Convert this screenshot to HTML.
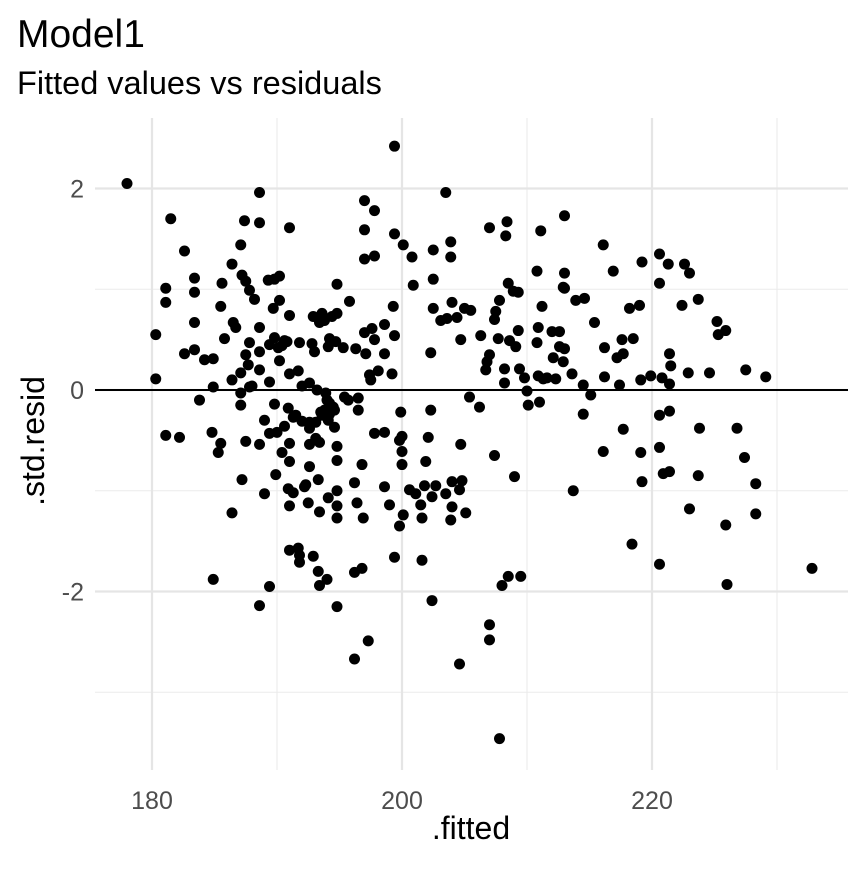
<!DOCTYPE html>
<html><head><meta charset="utf-8"><style>
body{margin:0;background:#fff;}
svg text{font-family:"Liberation Sans",Arial,sans-serif;}
</style></head><body>
<svg id="chart" width="864" height="864" xmlns="http://www.w3.org/2000/svg">
<rect width="864" height="864" fill="#fff"/>
<text x="17" y="47" font-size="39" fill="#000">Model1</text>
<text x="17" y="94" font-size="32.5" fill="#000">Fitted values vs residuals</text>
<g id="grid"></g><g id="pts"></g><g id="ticks"></g>
<text x="471" y="839" font-size="32" text-anchor="middle">.fitted</text>
<text transform="translate(44,441) rotate(-90)" font-size="32" text-anchor="middle">.std.resid</text>
</svg>
<script>
const xVals=[178.0,180.3,180.3,181.1,181.1,181.1,181.5,182.2,182.6,182.6,183.4,183.4,183.4,183.4,183.8,184.2,184.8,184.9,184.9,184.9,185.3,185.5,185.5,185.6,185.8,186.4,186.4,186.5,186.4,186.7,187.1,187.2,187.1,187.1,187.1,187.2,187.4,187.5,187.5,187.5,187.7,187.8,187.8,187.8,188.0,188.2,188.6,188.6,188.6,188.6,188.6,188.6,188.6,189.0,189.0,189.3,189.4,189.4,189.4,189.4,189.7,189.8,189.8,189.8,189.9,190.0,190.1,190.2,190.2,190.2,190.4,190.4,190.6,190.6,190.8,190.9,190.9,191.0,191.0,191.0,191.0,191.0,191.0,191.0,191.3,191.3,191.5,191.7,191.7,191.8,191.8,191.8,192.0,192.0,192.2,192.3,192.5,192.6,192.6,192.6,192.6,192.6,192.8,192.9,192.9,193.0,193.1,193.1,193.2,193.3,193.3,193.4,193.4,193.4,193.4,193.5,193.6,193.6,193.8,193.8,193.9,194.0,194.0,194.1,194.1,194.1,194.2,194.2,194.2,194.4,194.5,194.6,194.6,194.7,194.8,194.8,194.8,194.8,194.8,194.8,194.8,194.8,195.3,195.4,195.7,195.8,196.2,196.2,196.2,196.3,196.4,196.5,196.5,196.8,196.8,196.9,197.0,197.0,197.0,197.0,197.1,197.3,197.4,197.5,197.6,197.8,197.8,197.8,197.8,198.1,198.6,198.6,198.6,198.6,199.0,199.2,199.3,199.4,199.4,199.4,199.4,199.8,199.8,199.9,200.0,200.1,200.0,200.0,200.1,200.6,200.8,200.9,201.1,201.5,201.6,201.6,201.8,201.9,202.1,202.3,202.3,202.4,202.5,202.4,202.5,202.5,202.7,203.1,203.5,203.5,203.6,203.9,203.9,204.0,204.0,203.9,204.0,204.4,204.6,204.6,204.7,204.7,204.8,205.0,205.1,205.4,205.5,206.2,206.3,206.8,207.0,207.0,207.0,206.7,207.0,207.4,207.4,207.5,207.7,207.8,207.8,208.0,208.2,208.2,208.3,208.4,208.5,208.5,208.6,208.9,209.0,209.1,209.3,209.3,209.4,209.5,209.8,210.0,210.1,210.8,210.8,210.9,210.9,211.0,211.1,211.2,211.3,211.6,212.0,212.1,212.3,212.6,212.6,212.9,212.9,213.0,213.0,213.0,213.0,213.6,213.7,213.9,214.5,214.5,214.6,215.1,215.4,216.1,216.1,216.2,216.2,216.9,217.2,217.4,217.6,217.7,217.7,218.2,218.4,218.5,219.0,219.1,219.1,219.2,219.2,219.9,220.6,220.6,220.6,220.6,220.6,220.8,220.9,221.3,221.4,221.4,221.4,221.4,221.5,222.4,222.6,222.9,223.0,223.0,223.7,223.7,223.8,224.6,225.2,225.3,225.9,225.9,226.0,226.8,227.4,227.5,228.3,228.3,229.1,232.8];
const yVals=[2.05,0.55,0.11,1.01,0.87,-0.45,1.70,-0.47,1.38,0.36,1.11,0.97,0.67,0.40,-0.10,0.30,-0.42,0.31,0.03,-1.88,-0.62,-0.53,0.83,1.06,0.51,1.25,0.10,0.67,-1.22,0.62,1.44,1.14,0.17,-0.03,-0.15,-0.89,1.68,1.08,0.35,-0.51,0.25,0.47,0.03,0.99,0.04,0.90,1.66,1.96,0.62,0.38,0.20,-0.54,-2.14,-0.30,-1.03,1.09,0.45,0.08,-0.43,-1.95,0.81,1.10,0.52,-0.14,-0.84,-0.42,0.42,1.13,0.89,0.29,0.44,-0.62,-0.36,0.49,0.48,-0.18,-0.98,1.61,-0.53,-1.15,0.74,0.16,-0.71,-1.59,-0.27,-1.02,-0.25,0.19,-1.57,0.47,-1.64,-1.71,0.04,-0.31,-0.96,-0.94,-1.12,-0.54,0.07,-0.32,-0.38,-0.76,0.46,-1.65,0.73,0.38,-0.32,-0.48,0.00,-1.80,-0.89,-1.21,0.67,-0.52,-1.94,-0.22,0.76,-0.25,-0.20,0.69,-0.03,-0.10,-1.88,0.43,-0.30,-1.07,0.51,-0.13,-0.24,0.73,-0.17,-0.37,-0.20,0.48,1.05,0.76,-0.56,-0.70,-1.00,-1.15,-1.27,-2.15,0.42,-0.07,-0.10,0.88,-0.92,-1.81,-2.67,0.41,-1.12,-0.20,-0.08,-1.77,-0.74,-1.27,1.88,1.59,0.57,1.30,0.36,-2.49,0.15,0.10,0.61,0.50,1.78,-0.43,1.33,0.19,0.36,0.65,-0.42,-0.96,-1.14,0.16,0.83,1.55,0.54,2.42,-1.66,-0.50,-1.35,-0.22,-0.46,1.44,-0.61,-0.74,-1.24,-0.99,1.32,1.04,-1.03,-1.14,-1.27,-1.69,-0.95,-0.71,-0.47,0.37,-0.20,-1.06,1.10,-2.09,1.39,0.81,-0.95,0.69,1.96,-1.03,0.71,1.32,1.47,-0.91,0.87,-1.29,-1.16,0.72,-0.99,-2.72,-0.54,0.50,-0.90,0.81,-1.22,-0.07,0.79,-0.17,0.54,0.28,-2.33,-2.48,1.61,0.20,0.35,0.70,-0.65,0.78,0.51,0.89,-3.46,-1.94,0.21,0.07,1.53,1.67,1.06,-1.85,0.49,0.98,-0.86,0.43,0.97,0.59,0.21,-1.85,0.12,-0.01,-0.15,0.47,1.18,0.14,0.62,-0.12,1.58,0.83,0.11,0.12,0.58,0.32,0.11,0.58,0.43,0.28,1.02,1.73,1.16,0.41,1.01,0.16,-1.00,0.89,-0.24,0.05,0.91,-0.05,0.67,-0.61,1.44,0.13,0.42,1.18,0.32,0.05,0.50,-0.39,0.36,0.81,-1.53,0.51,0.84,0.10,-0.62,-0.91,1.27,0.14,1.06,1.35,-0.25,-0.57,-1.73,0.12,-0.83,1.25,0.06,-0.21,0.36,-0.81,0.24,0.84,1.25,0.17,1.16,-1.18,0.90,-0.85,-0.38,0.17,0.68,0.55,0.59,-1.34,-1.93,-0.38,-0.67,0.20,-0.93,-1.23,0.13,-1.77];
const xMajor=[180,200,220];
const xMinor=[190,210,230];
const yMajor=[2,0,-2];
const yMinor=[1,-1,-3];
const xTickLabels=["180","200","220"];
const yTickLabels=["2","0","-2"];

const NS="http://www.w3.org/2000/svg";
const L=95,R=848,T=118,B=770;
const sx=v=>152+(v-180)*12.5;
const sy=v=>390-v*100.75;
function mk(tag,attrs,parent){const e=document.createElementNS(NS,tag);for(const k in attrs)e.setAttribute(k,attrs[k]);parent.appendChild(e);return e;}
const grid=document.getElementById('grid'),pts=document.getElementById('pts'),ticks=document.getElementById('ticks');
xMinor.forEach(v=>{const l=mk('line',{x1:sx(v),x2:sx(v),y1:T,y2:B,stroke:'#ebebeb','stroke-width':1.1},grid);

});
yMinor.forEach(v=>{const l=mk('line',{x1:L,x2:R,y1:sy(v),y2:sy(v),stroke:'#ebebeb','stroke-width':1.1},grid);

});
xMajor.forEach((v,i)=>{const l=mk('line',{x1:sx(v),x2:sx(v),y1:T,y2:B,stroke:'#e5e5e5','stroke-width':2.2},grid);


const t=mk('text',{x:sx(v),y:809,'font-size':25,fill:'#4d4d4d','text-anchor':'middle'},ticks);t.textContent=xTickLabels[i];

});
yMajor.forEach((v,i)=>{const l=mk('line',{x1:L,x2:R,y1:sy(v),y2:sy(v),stroke:'#e5e5e5','stroke-width':2.2},grid);


const t=mk('text',{x:84,y:sy(v)+9,'font-size':25,fill:'#4d4d4d','text-anchor':'end'},ticks);t.textContent=yTickLabels[i];

});
xVals.forEach((x,i)=>{const c=mk('circle',{cx:sx(x),cy:sy(yVals[i]),r:5.5,fill:'#000'},pts);

});
const z=mk('line',{x1:L,x2:R,y1:sy(0),y2:sy(0),stroke:'#000','stroke-width':2},pts);


</script>
</body></html>
